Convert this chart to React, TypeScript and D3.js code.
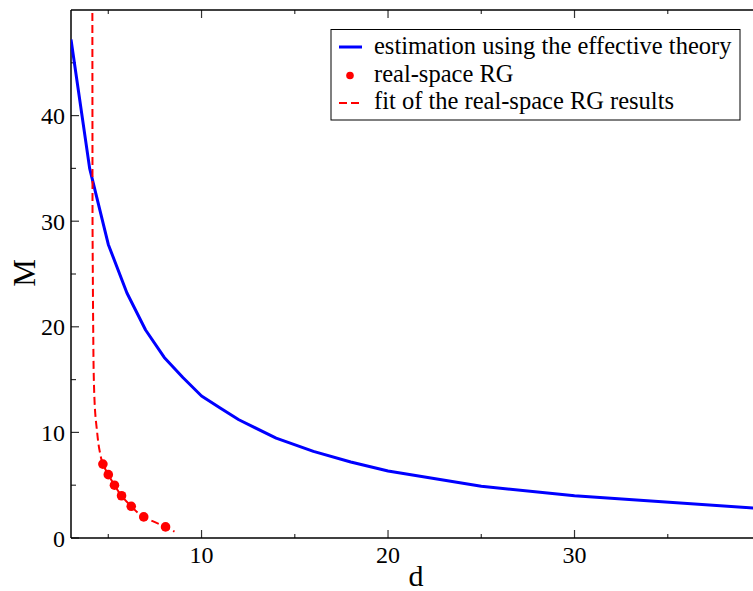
import React from "react";
import * as d3 from "d3";

// Blue: estimation using the effective theory
const theoryD = [3, 4, 5, 6, 7, 8, 9, 10, 11, 12, 14, 16, 18, 20, 25, 30, 40];
const theoryM = [47.2, 35.0, 27.8, 23.2, 19.7, 17.1, 15.2, 13.45, 12.3, 11.2, 9.45, 8.2, 7.2, 6.35, 4.9, 4.0, 2.8];

// Red dots: real-space RG
const rgD = [4.71, 5.0, 5.33, 5.71, 6.23, 6.9, 8.07];
const rgM = [7.0, 6.0, 5.0, 4.0, 3.0, 2.0, 1.05];

// Red dashed: fit of the real-space RG results
const fitD = [4.145, 4.15, 4.155, 4.17, 4.19, 4.225, 4.25, 4.3, 4.39, 4.53, 4.71, 5.0, 5.33, 5.71, 6.23, 6.9, 7.5, 8.07, 8.55];
const fitM = [52, 40, 30, 25, 20, 15, 13.5, 11.8, 10.2, 8.3, 7.0, 6.0, 5.0, 4.0, 3.0, 2.0, 1.5, 1.05, 0.6];

const xMajor = [10, 20, 30];
const xMinor = [5, 15, 25, 35];
const yMajor = [0, 10, 20, 30, 40];
const yMinor = [5, 15, 25, 35, 45];

const legendLabels = [
  "estimation using the effective theory",
  "real-space RG",
  "fit of the real-space RG results",
];

const W = 753;
const H = 591;
const L = 71;
const T = 10;
const B = 538;
const R = 761;

const font = "'Liberation Serif', 'Times New Roman', serif";

export default function App() {
  const x = d3.scaleLinear().domain([3, 40]).range([L, R]);
  const y = d3.scaleLinear().domain([0, 50]).range([B, T]);

  const line = d3
    .line<[number, number]>()
    .x((d) => x(d[0]))
    .y((d) => y(d[1]));
  const theoryPath = line(theoryD.map((d, i) => [d, theoryM[i]]) as [number, number][]) || "";
  const fitLine = d3
    .line<[number, number]>()
    .x((d) => x(d[0]))
    .y((d) => y(d[1]))
    .curve(d3.curveMonotoneY);
  const fitPath = fitLine(fitD.map((d, i) => [d, fitM[i]]) as [number, number][]) || "";

  const tickColor = "#333";
  const ts = { fontFamily: font };
  return (
    <svg
      width={W}
      height={H}
      style={{ position: "absolute", left: 0, top: 0, background: "#fff" }}
    >
      <defs>
        <clipPath id="plot">
          <rect x={L} y={T} width={R - L} height={B - T} />
        </clipPath>
      </defs>
      <rect x={0} y={0} width={W} height={H} fill="#fff" />

      {/* ticks */}
      {xMajor.map((v) => (
        <g key={"xM" + v}>
          <line x1={x(v)} x2={x(v)} y1={B} y2={B - 8} stroke={tickColor} strokeWidth={1.2} />
          <line x1={x(v)} x2={x(v)} y1={T} y2={T + 8} stroke={tickColor} strokeWidth={1.2} />
          <text x={x(v)} y={563} textAnchor="middle" fontSize={24} fill="#000" style={ts}>
            {v}
          </text>
        </g>
      ))}
      {xMinor.map((v) => (
        <g key={"xm" + v}>
          <line x1={x(v)} x2={x(v)} y1={B} y2={B - 4} stroke={tickColor} strokeWidth={1.2} />
          <line x1={x(v)} x2={x(v)} y1={T} y2={T + 4} stroke={tickColor} strokeWidth={1.2} />
        </g>
      ))}
      {yMajor.map((v) => (
        <g key={"yM" + v}>
          <line x1={L} x2={L + 8} y1={y(v)} y2={y(v)} stroke={tickColor} strokeWidth={1.2} />
          <text x={65} y={y(v) + 8.5} textAnchor="end" fontSize={24} fill="#000" style={ts}>
            {v}
          </text>
        </g>
      ))}
      {yMinor.map((v) => (
        <line key={"ym" + v} x1={L} x2={L + 5} y1={y(v)} y2={y(v)} stroke={tickColor} strokeWidth={1.2} />
      ))}

      {/* frame */}
      <line x1={L} x2={L} y1={T} y2={B} stroke="#000" strokeWidth={1.5} />
      <line x1={L} x2={W} y1={T} y2={T} stroke="#000" strokeWidth={1.5} />
      <line x1={L} x2={W} y1={B} y2={B} stroke="#000" strokeWidth={1.5} />

      {/* data */}
      <g clipPath="url(#plot)">
        <path d={theoryPath} fill="none" stroke="#0000ff" strokeWidth={3} strokeLinejoin="round" />
        <path d={fitPath} fill="none" stroke="#ff0000" strokeWidth={2} strokeDasharray="8,4" />
        {rgD.map((d, i) => (
          <circle key={i} cx={x(d)} cy={y(rgM[i])} r={4.8} fill="#ff0000" />
        ))}
      </g>

      {/* axis titles */}
      <text x={416} y={586} textAnchor="middle" fontSize={30} fill="#000" style={ts}>
        d
      </text>
      <text
        transform={`translate(35, 273) rotate(-90)`}
        textAnchor="middle"
        fontSize={31}
        fill="#000"
        style={ts}
      >
        M
      </text>

      {/* legend */}
      <rect x={331} y={29.5} width={409} height={90.5} fill="#fff" stroke="#000" strokeWidth={1} />
      <line x1={339} x2={362} y1={47} y2={47} stroke="#0000ff" strokeWidth={3} />
      <circle cx={350} cy={75.5} r={3.8} fill="#ff0000" />
      <line x1={339} x2={362} y1={103} y2={103} stroke="#ff0000" strokeWidth={2} strokeDasharray="8,4" />
      {legendLabels.map((t, i) => (
        <text key={t} x={374} y={54 + i * 27.5} fontSize={24.5} fill="#000" style={ts}>
          {t}
        </text>
      ))}
    </svg>
  );
}
